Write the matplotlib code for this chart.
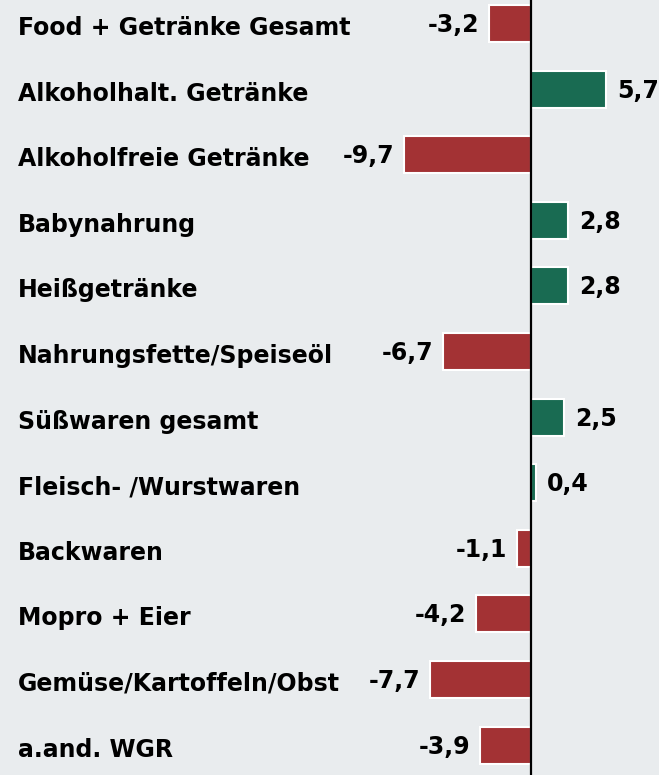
import matplotlib
matplotlib.use('Agg')
from matplotlib import pyplot as plt
from matplotlib import transforms

# Data
categories = ['Food + Getränke Gesamt', 'Alkoholhalt. Getränke', 'Alkoholfreie Getränke',
              'Babynahrung', 'Heißgetränke', 'Nahrungsfette/Speiseöl', 'Süßwaren gesamt',
              'Fleisch- /Wurstwaren', 'Backwaren', 'Mopro + Eier',
              'Gemüse/Kartoffeln/Obst', 'a.and. WGR']
values = [-3.2, 5.7, -9.7, 2.8, 2.8, -6.7, 2.5, 0.4, -1.1, -4.2, -7.7, -3.9]
value_labels = ['-3,2', '5,7', '-9,7', '2,8', '2,8', '-6,7', '2,5', '0,4', '-1,1',
                '-4,2', '-7,7', '-3,9']

bg = '#e9ecee'
red = '#a33234'
green = '#196b52'

fig = plt.figure(figsize=(6.59, 7.75), dpi=100, facecolor=bg)
ax = fig.add_axes([0, 0, 1, 1], facecolor=bg)

ypos = list(range(len(categories)))
colors = [green if v > 0 else red for v in values]
ax.barh(ypos, values, height=0.565, color=colors, edgecolor='white', linewidth=1.5, zorder=2)
ax.axvline(0, color='black', linewidth=1.6, zorder=3)

px = 13.1    # pixels per unit on x
row = 65.6   # pixels per row
ax.set_xlim(-531 / px, 128 / px)
ax.set_ylim((775 - 23.5) / row, -23.5 / row)
ax.axis('off')

font = dict(family='DejaVu Sans', fontweight='bold', fontsize=17, color='black')
trans = transforms.blended_transform_factory(ax.transAxes, ax.transData)
for y, cat in zip(ypos, categories):
    ax.text(18 / 659, y + 11.5 / row, cat, transform=trans, ha='left', va='baseline', **font)

for y, v, lab in zip(ypos, values, value_labels):
    if v > 0:
        ax.annotate(lab, (v, y + 8.5 / row), xytext=(8, 0), textcoords='offset points',
                    ha='left', va='baseline', **font)
    else:
        ax.annotate(lab, (v, y + 8.5 / row), xytext=(-7, 0), textcoords='offset points',
                    ha='right', va='baseline', **font)

fig.savefig('out.png', dpi=100, facecolor=bg)
